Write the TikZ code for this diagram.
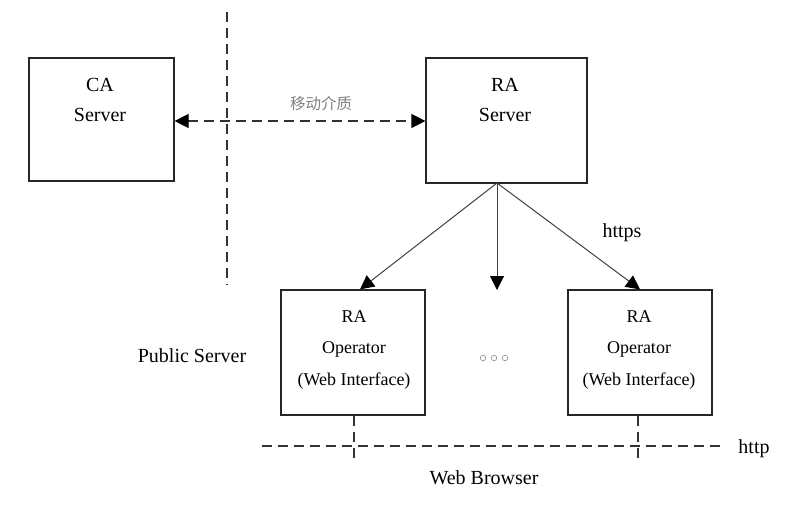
\documentclass[tikz,border=0pt]{standalone}
\usepackage{fontspec}
\setmainfont{Liberation Serif}
\newfontfamily\cjk{Noto Sans CJK SC}
\usetikzlibrary{arrows.meta,positioning,calc}

\tikzset{
  box/.style={draw=black!85, line width=1.2pt, minimum width=#1},
  box/.default=144pt,
  boxtext/.style={align=center, font=\fontsize{20}{30}\selectfont},
  optext/.style={align=center, font=\fontsize{18}{31.5}\selectfont},
  lbl/.style={font=\fontsize{20}{24}\selectfont},
  link/.style={draw=black!75, line width=1pt},
  sep/.style={draw=black!80, line width=1.2pt, dash pattern=on 10pt off 6pt},
  >={Triangle[length=14pt,width=14pt,color=black]}
}

\begin{document}
\begin{tikzpicture}[x=1pt, y=-1pt]
    \useasboundingbox (0,0) rectangle (800,504);

    % Boxes
    \node[box=145pt, minimum height=123pt] (ca) at (101.5,119.5) {};
    \node[box=161pt, minimum height=125pt] (ra) at (506.5,120.5) {};
    \node[box, minimum height=125pt] (opL) at (353,352.5) {};
    \node[box, minimum height=125pt] (opR) at (640,352.5) {};

    % Box texts
    \node[boxtext] (caTxt) at (100,100) {CA\\Server};
    \node[boxtext] (raTxt) at (505,100) {RA\\Server};
    \node[optext] (opLTxt) at (354,349.5) {RA\\Operator\\(Web Interface)};
    \node[optext] (opRTxt) at (639,349.5) {RA\\Operator\\(Web Interface)};

    % Separation lines
    \coordinate (sepTop) at (227,12);
    \coordinate (sepBot) at (227,285);
    \draw[sep] (sepTop) -- (sepBot);
    \coordinate (httpL) at (262,446);
    \coordinate (httpR) at (722,446);
    \draw[sep] (httpL) -- (httpR);
    \coordinate (brL) at (354,462);
    \coordinate (brR) at (638,462);
    \draw[sep] (opL.south -| brL) -- (brL);
    \draw[sep] (opR.south -| brR) -- (brR);

    % Offline transfer
    \draw[sep, <->] (ca.east |- 0,121) -- (ra.west |- 0,121);
    \node[text=black!50, font=\cjk\fontsize{15.5}{18}\selectfont] (medium) at (321,104) {移动介质};

    % RA server to operators
    \coordinate (fork) at (497,183);
    \coordinate (mid) at (497,290);
    \draw[link, ->] (fork) -- (opL.north -| 360,0);
    \draw[link, ->] (fork) -- (mid);
    \draw[link, ->] (fork) -- (opR.north);
    \node[lbl] (https) at (622,233) {https};

    % More operators
    \foreach \i/\x in {1/483,2/494,3/505}
        \node[circle, draw=black!45, line width=0.6pt, inner sep=0pt, minimum size=5.5pt] (dot\i) at (\x,358) {};

    % Other labels
    \node[lbl] (pubSrv) at (192,356) {Public Server};
    \node[lbl] (http) at (754,449) {http};
    \node[lbl] (browser) at (484,478) {Web Browser};
\end{tikzpicture}
\end{document}
